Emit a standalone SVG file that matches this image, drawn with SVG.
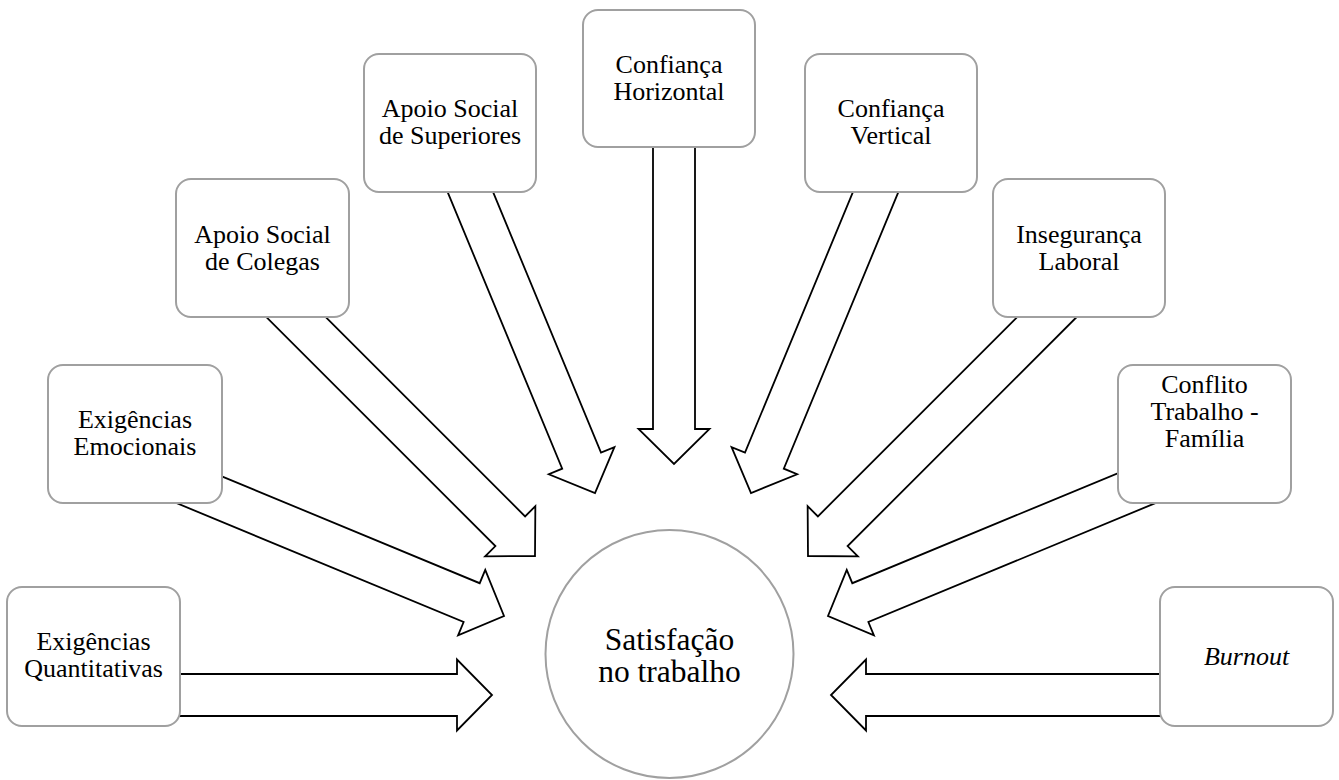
<svg xmlns="http://www.w3.org/2000/svg" width="1339" height="780" viewBox="0 0 1339 780">
<style>
.arrow{fill:#fff;stroke:#000;stroke-width:1.8;stroke-linejoin:miter}
.box{fill:#fff;stroke:#a0a0a0;stroke-width:2}
.t{font-size:26px;fill:#000;text-anchor:middle}
.c{font-size:31.5px;fill:#000;text-anchor:middle}
</style>
<rect width="1339" height="780" fill="#fff"/>
<g id="connectors">
<polygon class="arrow" transform="translate(492,695) rotate(0)" points="-400,-21 -35,-21 -35,-35.5 0,0 -35,35.5 -35,21 -400,21"/>
<polygon class="arrow" transform="translate(504,616) rotate(22.5)" points="-360,-21 -35,-21 -35,-35.5 0,0 -35,35.5 -35,21 -360,21"/>
<polygon class="arrow" transform="translate(535,556) rotate(45)" points="-400,-21 -35,-21 -35,-35.5 0,0 -35,35.5 -35,21 -400,21"/>
<polygon class="arrow" transform="translate(595,493) rotate(67.5)" points="-380,-21 -35,-21 -35,-35.5 0,0 -35,35.5 -35,21 -380,21"/>
<polygon class="arrow" transform="translate(674,464) rotate(90)" points="-400,-21 -35,-21 -35,-35.5 0,0 -35,35.5 -35,21 -400,21"/>
<polygon class="arrow" transform="translate(751,493) rotate(112.5)" points="-380,-21 -35,-21 -35,-35.5 0,0 -35,35.5 -35,21 -380,21"/>
<polygon class="arrow" transform="translate(808,556) rotate(135)" points="-400,-21 -35,-21 -35,-35.5 0,0 -35,35.5 -35,21 -400,21"/>
<polygon class="arrow" transform="translate(828,616) rotate(157.5)" points="-360,-21 -35,-21 -35,-35.5 0,0 -35,35.5 -35,21 -360,21"/>
<polygon class="arrow" transform="translate(831,695) rotate(180)" points="-400,-21 -35,-21 -35,-35.5 0,0 -35,35.5 -35,21 -400,21"/>
</g>
<g font-family="Liberation Serif, Times New Roman, serif">
<g id="quantitativas">
<rect class="box" x="7" y="587" width="173" height="139" rx="15"/>
<text class="t" x="93.5" y="650">Exigências</text>
<text class="t" x="93.5" y="677">Quantitativas</text>
</g>
<g id="emocionais">
<rect class="box" x="48" y="365" width="174" height="138" rx="15"/>
<text class="t" x="135" y="428">Exigências</text>
<text class="t" x="135" y="455">Emocionais</text>
</g>
<g id="colegas">
<rect class="box" x="176" y="179" width="173" height="138" rx="15"/>
<text class="t" x="262.5" y="243">Apoio Social</text>
<text class="t" x="262.5" y="270">de Colegas</text>
</g>
<g id="superiores">
<rect class="box" x="364" y="54" width="172" height="138" rx="15"/>
<text class="t" x="450" y="117">Apoio Social</text>
<text class="t" x="450" y="144">de Superiores</text>
</g>
<g id="horizontal">
<rect class="box" x="583" y="10" width="172" height="137" rx="15"/>
<text class="t" x="669" y="73">Confiança</text>
<text class="t" x="669" y="100">Horizontal</text>
</g>
<g id="vertical">
<rect class="box" x="805" y="54" width="172" height="138" rx="15"/>
<text class="t" x="891" y="117">Confiança</text>
<text class="t" x="891" y="144">Vertical</text>
</g>
<g id="laboral">
<rect class="box" x="993" y="179" width="172" height="138" rx="15"/>
<text class="t" x="1079" y="243">Insegurança</text>
<text class="t" x="1079" y="270">Laboral</text>
</g>
<g id="familia">
<rect class="box" x="1118" y="365" width="173" height="138" rx="15"/>
<text class="t" x="1204.5" y="393">Conflito</text>
<text class="t" x="1204.5" y="420">Trabalho -</text>
<text class="t" x="1204.5" y="447">Família</text>
</g>
<g id="burnout">
<rect class="box" x="1160" y="587" width="173" height="139" rx="15"/>
<text class="t" x="1246.5" y="665" font-style="italic">Burnout</text>
</g>
<g id="satisfacao">
<circle cx="669.5" cy="654" r="124" fill="#fff" stroke="#a0a0a0" stroke-width="2"/>
<text class="c" x="669.5" y="650">Satisfação</text>
<text class="c" x="669.5" y="682">no trabalho</text>
</g>
</g>
</svg>
